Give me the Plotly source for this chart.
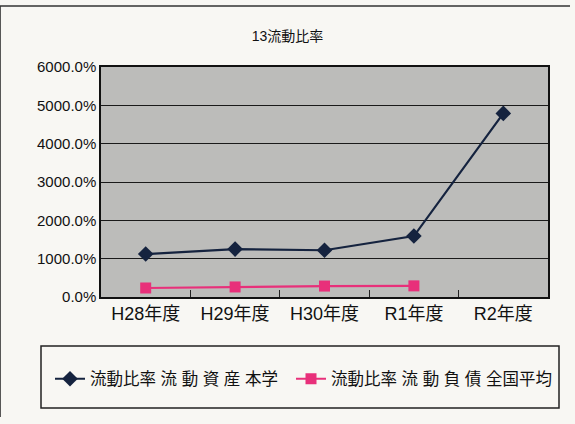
import plotly.graph_objects as go

# Fiscal years and current-ratio series (%)
years = ["H28年度", "H29年度", "H30年度", "R1年度", "R2年度"]
own_ratio = [1120, 1250, 1220, 1590, 4790]
national_avg = [235, 262, 285, 290, None]

series_names = ["流動比率 流 動 資 産 本学", "流動比率 流 動 負 債 全国平均"]
title_text = "13流動比率"

FONT = "Liberation Sans, Arial, Noto Sans CJK JP, sans-serif"

fig = go.Figure()
fig.add_trace(go.Scatter(
    x=years, y=own_ratio, name=series_names[0], mode="lines+markers",
    line=dict(color="#15233f", width=2.2),
    marker=dict(symbol="diamond", size=12, color="#15233f"),
    legend="legend",
))
fig.add_trace(go.Scatter(
    x=years, y=national_avg, name=series_names[1], mode="lines+markers",
    line=dict(color="#e8307a", width=2.2),
    marker=dict(symbol="square", size=11, color="#e8307a"),
    legend="legend2",
))

legend_style = dict(orientation="h", xanchor="left", xref="container",
                    y=45/424, yanchor="middle", yref="container",
                    font=dict(size=16.5, family=FONT, color="#111111"),
                    bgcolor="rgba(0,0,0,0)", itemwidth=30)

fig.update_layout(
    width=575, height=424,
    margin=dict(l=101, r=27, t=67, b=127),
    paper_bgcolor="#f8f7f3",
    plot_bgcolor="#bcbcba",
    font=dict(family=FONT, color="#111111"),
    title=dict(text=title_text, x=0.5, xanchor="center", y=0.915, yanchor="middle",
               font=dict(size=14, family=FONT, color="#111111")),
    showlegend=True,
    legend=dict(x=50/575, **legend_style),
    legend2=dict(x=291/575, **legend_style),
    xaxis=dict(
        type="category", showgrid=False, showline=True, linecolor="#111111", linewidth=1.5,
        mirror=True, ticks="inside", ticklen=7, tickcolor="#222222", tickson="boundaries",
        tickfont=dict(size=18, family=FONT, color="#111111"), range=[-0.5, 4.5],
    ),
    yaxis=dict(
        range=[0, 6000], dtick=1000, tickformat=".1f", ticksuffix="%",
        showgrid=True, gridcolor="#1a1a1a", gridwidth=1,
        showline=True, linecolor="#111111", linewidth=1.5, mirror=True,
        ticks="", tickfont=dict(size=15, family=FONT, color="#111111"),
        zeroline=False,
    ),
    shapes=[
        # outer chart frame (left and top edges)
        dict(type="line", xref="paper", yref="paper", x0=-101/447, x1=-101/447,
             y0=-120/230, y1=1 + 61/230, line=dict(color="#222222", width=1.5)),
        dict(type="line", xref="paper", yref="paper", x0=-101/447, x1=1 + 22/447,
             y0=1 + 61/230, y1=1 + 61/230, line=dict(color="#333333", width=1.5)),
        # legend frame
        dict(type="rect", xref="paper", yref="paper", x0=-60/447, x1=1 + 11/447,
             y0=-111/230, y1=-49/230, line=dict(color="#222222", width=1.5)),
    ],
)

fig.write_html("out.html")
